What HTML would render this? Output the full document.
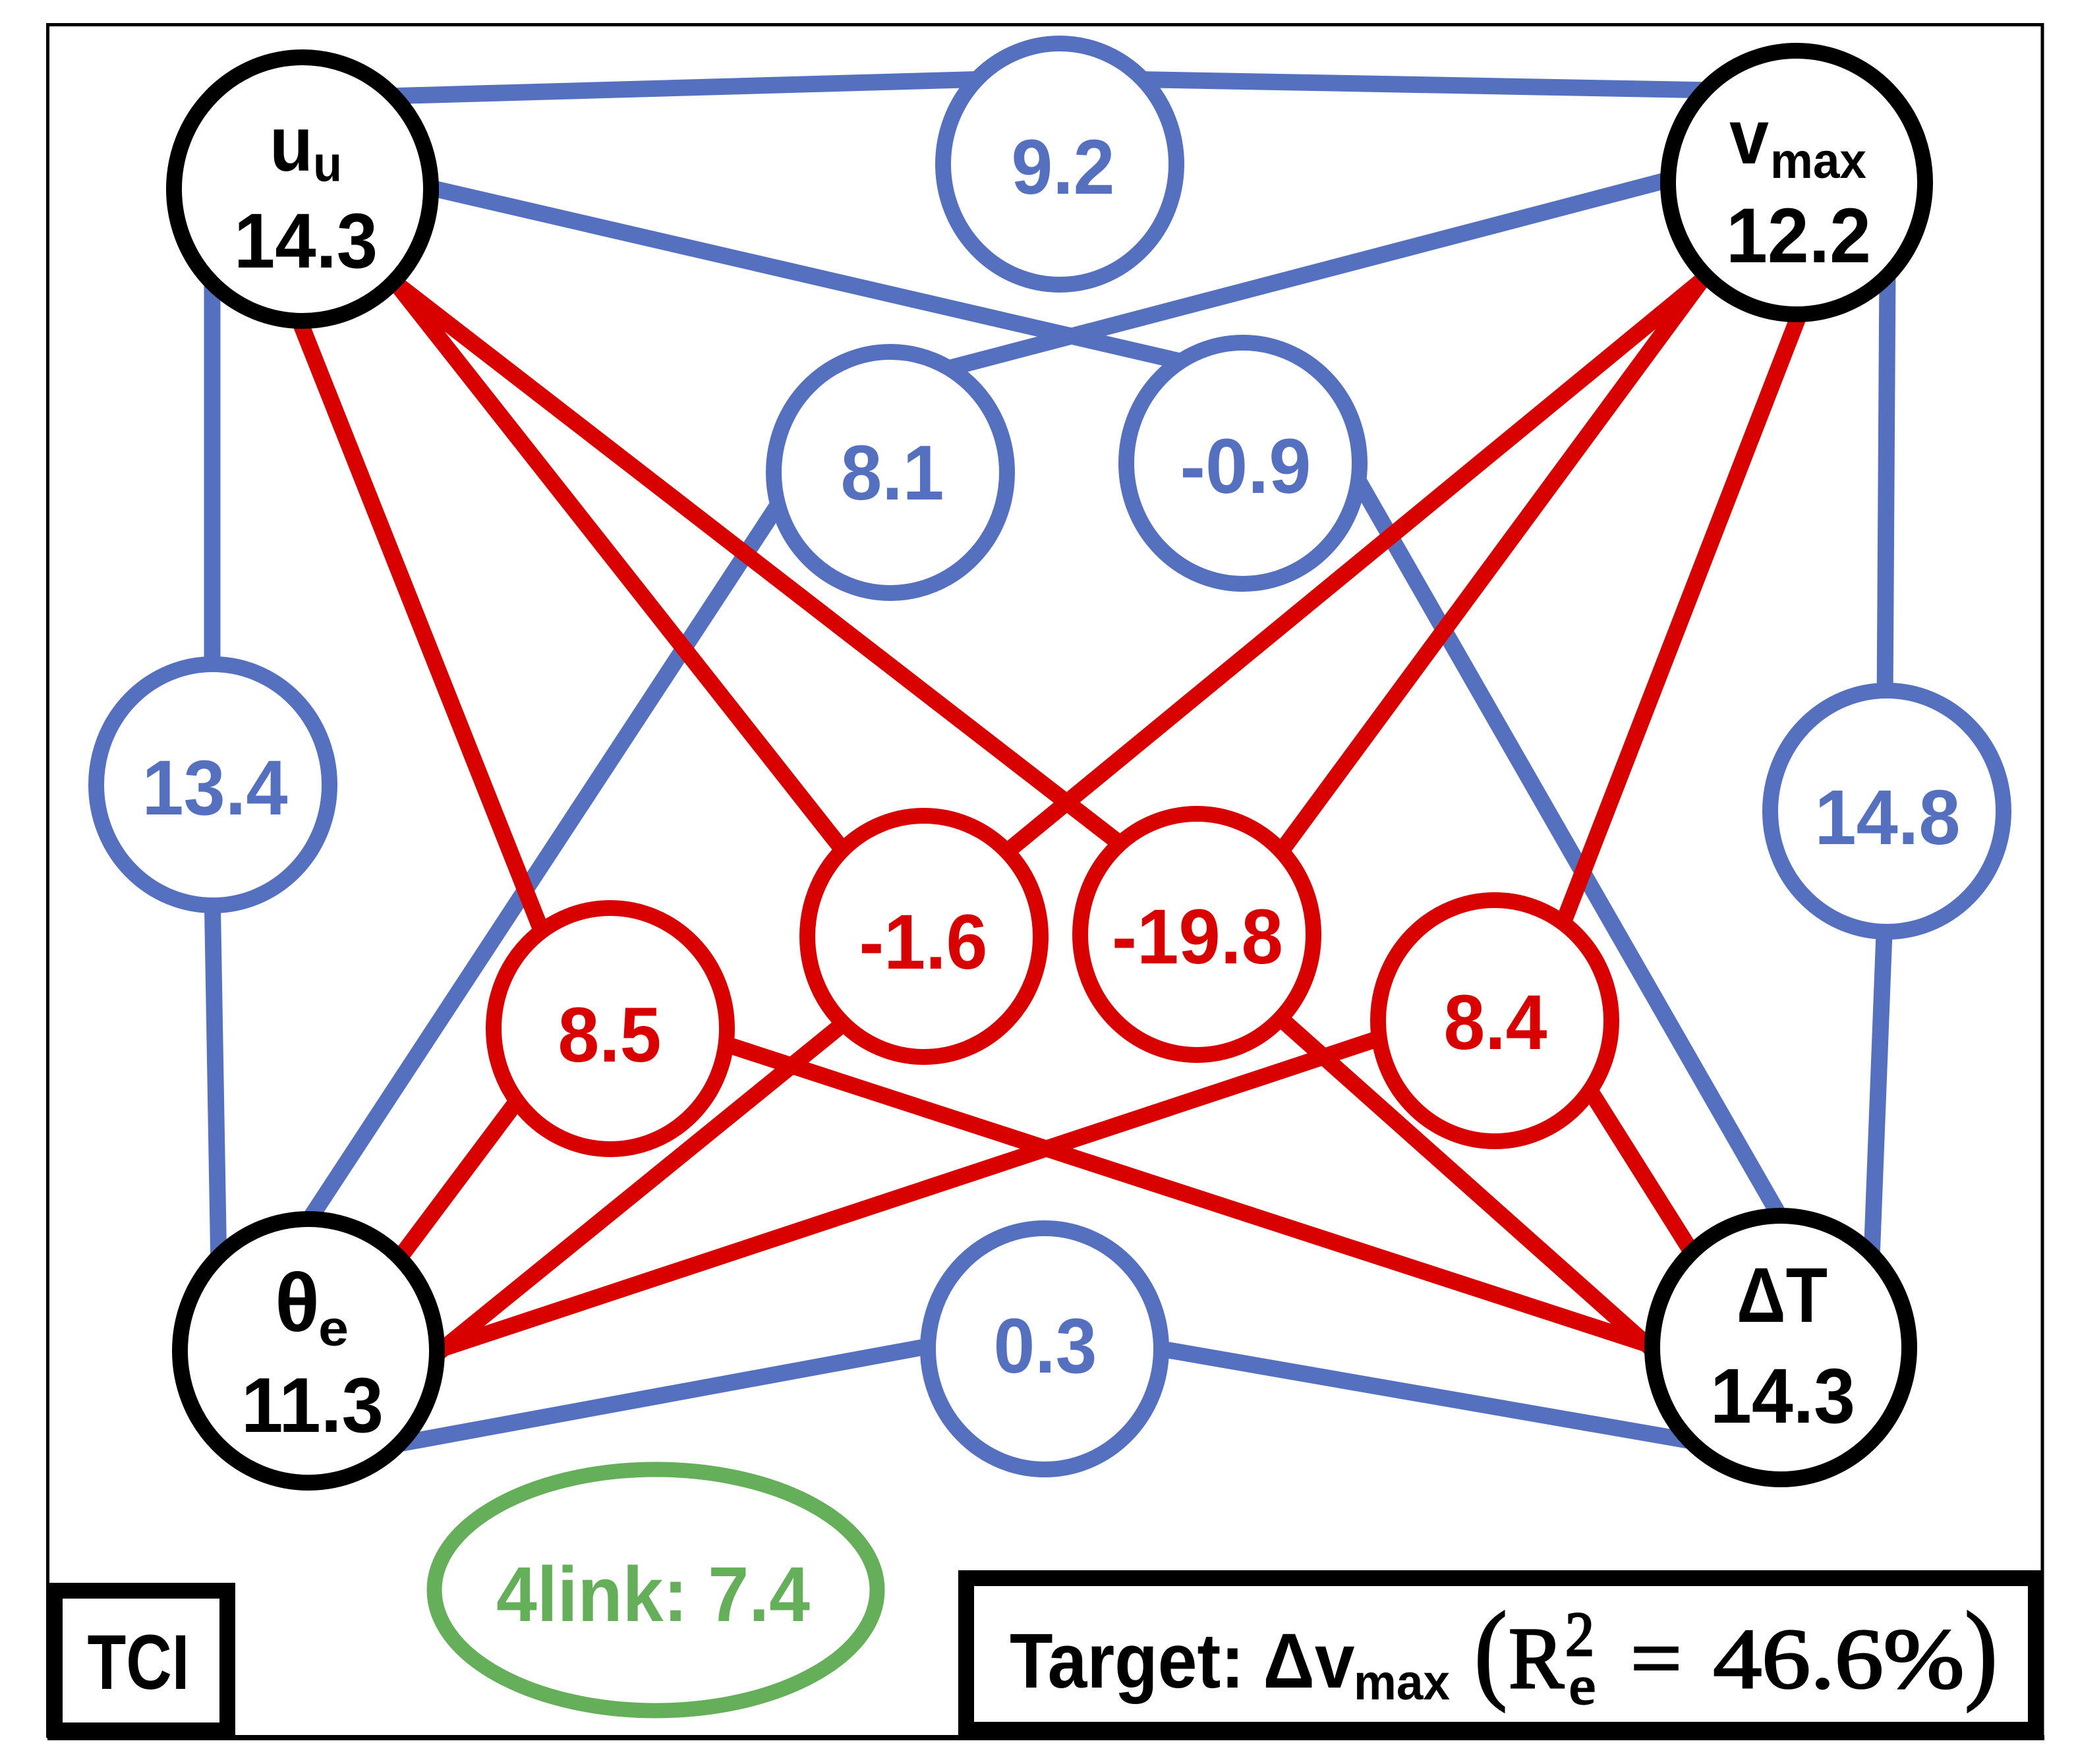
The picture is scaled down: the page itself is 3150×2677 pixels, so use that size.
<!DOCTYPE html>
<html><head><meta charset="utf-8"><style>
html,body{margin:0;padding:0;background:#fff}
svg{display:block}
text{font-family:"Liberation Sans",sans-serif;font-weight:700;text-anchor:middle}
.s{font-family:"Liberation Serif",serif;font-weight:400;stroke:#000;stroke-width:3}
.b{fill:#5670c0}.r{fill:#d90000}.k{fill:#000}
</style></head><body>
<svg width="3150" height="2677" viewBox="0 0 3150 2677" xmlns="http://www.w3.org/2000/svg">
<rect width="3150" height="2677" fill="#fff"/>
<path d="M72.5 2637V37.5H3099V2637" fill="none" stroke="#000" stroke-width="5"/>
<rect x="72" y="2633" width="3030" height="8"/>
<g stroke="#5670c0" stroke-width="25" fill="none">
<line x1="585" y1="146" x2="1500" y2="120"/>
<line x1="1700" y1="120" x2="2600" y2="137"/>
<line x1="640" y1="282" x2="1820" y2="555"/>
<line x1="2550" y1="268" x2="1420" y2="564"/>
<line x1="322" y1="420" x2="322" y2="1030"/>
<line x1="322" y1="1350" x2="332" y2="1925"/>
<line x1="2864" y1="410" x2="2860" y2="1070"/>
<line x1="2860" y1="1390" x2="2840" y2="1910"/>
<line x1="1195" y1="744" x2="465" y2="1857"/>
<line x1="2050" y1="710" x2="2703" y2="1850"/>
<line x1="595" y1="2193" x2="1420" y2="2041"/>
<line x1="1750" y1="2045" x2="2590" y2="2191"/>
</g>
<g stroke="#d90000" stroke-width="25" fill="none">
<line x1="451" y1="478" x2="827" y2="1426"/>
<line x1="590" y1="416" x2="1290" y2="1304"/>
<line x1="585" y1="418" x2="1712" y2="1290"/>
<line x1="2600" y1="411" x2="1520" y2="1299"/>
<line x1="2595" y1="408" x2="1935" y2="1304"/>
<line x1="2733" y1="470" x2="2362" y2="1426"/>
<line x1="795" y1="1657" x2="595" y2="1924"/>
<line x1="1295" y1="1541" x2="655" y2="2061"/>
<line x1="1090" y1="1581" x2="2515" y2="2045"/>
<line x1="2110" y1="1570" x2="655" y2="2052"/>
<line x1="1930" y1="1534" x2="2515" y2="2055"/>
<line x1="2402" y1="1638" x2="2575" y2="1913"/>
</g>
<g fill="#fff" stroke="#5670c0" stroke-width="24">
<ellipse cx="1608" cy="249" rx="177" ry="183"/>
<ellipse cx="1351" cy="717" rx="177" ry="183"/>
<ellipse cx="1886" cy="703" rx="177" ry="183"/>
<ellipse cx="323" cy="1191" rx="177" ry="183"/>
<ellipse cx="2863" cy="1231" rx="177" ry="183"/>
<ellipse cx="1585" cy="2047" rx="177" ry="183"/>
</g>
<g fill="#fff" stroke="#d90000" stroke-width="24">
<ellipse cx="926" cy="1561" rx="177" ry="183"/>
<ellipse cx="1402" cy="1421" rx="177" ry="183"/>
<ellipse cx="1816" cy="1418" rx="177" ry="183"/>
<ellipse cx="2268" cy="1549" rx="177" ry="183"/>
</g>
<g fill="#fff" stroke="#000" stroke-width="24">
<ellipse cx="459" cy="287" rx="195" ry="200"/>
<ellipse cx="2726" cy="277" rx="195" ry="200"/>
<ellipse cx="468" cy="2050" rx="195" ry="200"/>
<ellipse cx="2702" cy="2045" rx="195" ry="200"/>
</g>
<ellipse cx="995" cy="2413" rx="336" ry="183" fill="#fff" stroke="#65ae5a" stroke-width="23"/>
<rect x="83" y="2414" width="262" height="212" fill="#fff" stroke="#000" stroke-width="24"/>
<rect x="1466" y="2395" width="1623" height="230" fill="#fff" stroke="#000" stroke-width="24"/>

<g font-size="118">
<text class="b" x="1613" y="294" textLength="157" lengthAdjust="spacingAndGlyphs">9.2</text>
<text class="b" x="1354" y="758" textLength="157" lengthAdjust="spacingAndGlyphs">8.1</text>
<text class="b" x="1890" y="748" textLength="199" lengthAdjust="spacingAndGlyphs">-0.9</text>
<text class="b" x="326" y="1236" textLength="221" lengthAdjust="spacingAndGlyphs">13.4</text>
<text class="b" x="2864" y="1281" textLength="221" lengthAdjust="spacingAndGlyphs">14.8</text>
<text class="b" x="1586" y="2083" textLength="157" lengthAdjust="spacingAndGlyphs">0.3</text>
<text class="r" x="925" y="1611" textLength="157" lengthAdjust="spacingAndGlyphs">8.5</text>
<text class="r" x="1401" y="1470" textLength="195" lengthAdjust="spacingAndGlyphs">-1.6</text>
<text class="r" x="1817" y="1462" textLength="260" lengthAdjust="spacingAndGlyphs">-19.8</text>
<text class="r" x="2269" y="1592" textLength="157" lengthAdjust="spacingAndGlyphs">8.4</text>
<text class="k" x="464" y="406" textLength="218" lengthAdjust="spacingAndGlyphs">14.3</text>
<text class="k" x="2729" y="398" textLength="220" lengthAdjust="spacingAndGlyphs">12.2</text>
<text class="k" x="474" y="2173" textLength="216" lengthAdjust="spacingAndGlyphs">11.3</text>
<text class="k" x="2705" y="2159" textLength="220" lengthAdjust="spacingAndGlyphs">14.3</text>
<text class="k" x="442" y="259" textLength="66" lengthAdjust="spacingAndGlyphs">u</text>
<text class="k" x="2654" y="248" textLength="60" lengthAdjust="spacingAndGlyphs">v</text>
<text class="k" x="451" y="2020" font-size="125" textLength="68" lengthAdjust="spacingAndGlyphs">θ</text>
<text class="k" x="2704" y="2006" textLength="138" lengthAdjust="spacingAndGlyphs">ΔT</text>
<text class="k" x="210" y="2563" textLength="155" lengthAdjust="spacingAndGlyphs">TCI</text>
<text x="991" y="2460" textLength="476" lengthAdjust="spacingAndGlyphs" fill="#65ae5a">4link: 7.4</text>
<text class="k" x="1710" y="2561" textLength="356" lengthAdjust="spacingAndGlyphs">Target:</text>
<text class="k" x="1986" y="2561" textLength="139" lengthAdjust="spacingAndGlyphs">Δv</text>
</g>
<g font-size="76">
<text class="k" x="497" y="275" textLength="44" lengthAdjust="spacingAndGlyphs">u</text>
<text class="k" x="2759" y="270" textLength="146" lengthAdjust="spacingAndGlyphs">max</text>
<text class="k" x="506" y="2042" textLength="46" lengthAdjust="spacingAndGlyphs">e</text>
<text class="k" x="2127" y="2579" textLength="146" lengthAdjust="spacingAndGlyphs">max</text>
</g>
<text class="s" x="2262" y="2562" font-size="168" textLength="50" lengthAdjust="spacingAndGlyphs">(</text>
<text class="s" x="3006" y="2562" font-size="168" textLength="50" lengthAdjust="spacingAndGlyphs">)</text>
<text class="s" x="2331" y="2561" font-size="133" textLength="84" lengthAdjust="spacingAndGlyphs">R</text>
<text class="s" x="2397" y="2512" font-size="95" textLength="44" lengthAdjust="spacingAndGlyphs">2</text>
<text class="s" x="2401" y="2585" font-size="82" textLength="40" lengthAdjust="spacingAndGlyphs">e</text>
<text class="s" x="2513" y="2561" font-size="133" textLength="78" lengthAdjust="spacingAndGlyphs">=</text>
<text class="s" x="2790" y="2561" font-size="130" textLength="381" lengthAdjust="spacingAndGlyphs">46.6%</text>
</svg>
</body></html>
